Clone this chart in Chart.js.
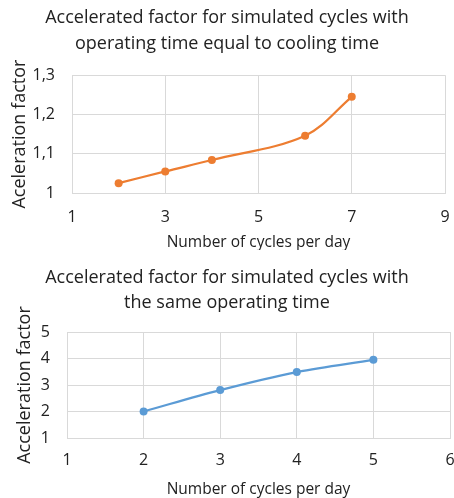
<!DOCTYPE html>
<html>
<head>
<meta charset="utf-8">
<script src="https://cdn.jsdelivr.net/npm/chart.js@4/dist/chart.umd.min.js"></script>
<style>
    body { margin: 0; background: #fff; }
    #wrap { position: relative; width: 454px; height: 498px; }
    canvas { position: absolute; left: 0; }
</style>
</head>
<body>
<div id="wrap">
    <canvas id="topChart" width="454" height="250" style="top:0"></canvas>
    <canvas id="bottomChart" width="454" height="248" style="top:250px"></canvas>
</div>
<script>
// data
var topTitle = ['Accelerated factor for simulated cycles with', 'operating time equal to cooling time'];
var topCycles = [2, 3, 4, 6, 7];
var topFactor = [1.025, 1.055, 1.084, 1.146, 1.245];

var bottomTitle = ['Accelerated factor for simulated cycles with', 'the same operating time'];
var bottomCycles = [2, 3, 4, 5];
var bottomFactor = [2.0, 2.81, 3.49, 3.95];

var textColor = '#222';
var gridColor = '#d9d9d9';
var fontName = "'Open Sans', sans-serif";

function toPoints(xs, ys) {
    var pts = [];
    for (var i = 0; i < xs.length; i++) {
        pts.push({x: xs[i], y: ys[i]});
    }
    return pts;
}

function commaLabel(value) {
    return String(Math.round(value * 10) / 10).replace('.', ',');
}

function drawChart(id, cfg) {
    var ctx = document.getElementById(id);
    return new Chart(ctx, {
        type: 'line',
        data: {
            datasets: [{
                data: toPoints(cfg.xs, cfg.ys),
                borderColor: cfg.color,
                backgroundColor: cfg.color,
                borderWidth: 2.25,
                pointRadius: 4,
                pointBorderWidth: 0,
                tension: cfg.tension
            }]
        },
        options: {
            responsive: false,
            animation: false,
            layout: { padding: 0 },
            plugins: {
                legend: { display: false },
                tooltip: { enabled: false },
                title: {
                    display: true,
                    text: cfg.title,
                    color: textColor,
                    font: { family: fontName, size: 18, weight: 'normal', lineHeight: cfg.titleLine },
                    padding: cfg.titlePad
                }
            },
            scales: {
                x: {
                    type: 'linear',
                    min: cfg.xMin,
                    max: cfg.xMax,
                    grid: { color: gridColor, drawTicks: false },
                    border: { color: gridColor },
                    ticks: {
                        stepSize: cfg.xStep,
                        color: textColor,
                        padding: cfg.xTickPad,
                        font: { family: fontName, size: 16 }
                    },
                    title: {
                        display: true,
                        text: 'Number of cycles per day',
                        color: textColor,
                        font: { family: fontName, size: 15.5, lineHeight: 1 },
                        padding: { top: 0, bottom: cfg.xTitleBottom }
                    },
                    afterFit: function(scale) {
                        scale.height = cfg.xHeight;
                        scale.paddingRight = cfg.rightPad;
                    }
                },
                y: {
                    min: cfg.yMin,
                    max: cfg.yMax,
                    grid: { color: gridColor, drawTicks: false },
                    border: { color: gridColor },
                    ticks: {
                        stepSize: cfg.yStep,
                        color: textColor,
                        padding: 17,
                        font: { family: fontName, size: 16 },
                        callback: cfg.yLabel
                    },
                    title: {
                        display: true,
                        text: cfg.yTitle,
                        color: textColor,
                        font: { family: fontName, size: 18, lineHeight: 1.2 },
                        padding: { top: cfg.yTitleTop, bottom: 0 }
                    },
                    afterFit: function(scale) {
                        scale.width = cfg.yWidth;
                    }
                }
            }
        }
    });
}

drawChart('topChart', {
    title: topTitle,
    titleLine: 1.45,
    titlePad: { top: 5, bottom: 18 },
    xs: topCycles,
    ys: topFactor,
    color: '#ed7d31',
    tension: 0.35,
    xMin: 1, xMax: 9, xStep: 2,
    yMin: 1, yMax: 1.3, yStep: 0.1,
    yLabel: commaLabel,
    yTitle: 'Aceleration factor',
    yTitleTop: 9,
    yWidth: 72,
    xHeight: 57,
    xTickPad: 15,
    xTitleBottom: 0,
    rightPad: 9
});

drawChart('bottomChart', {
    title: bottomTitle,
    titleLine: 1.39,
    titlePad: { top: 15, bottom: 17 },
    xs: bottomCycles,
    ys: bottomFactor,
    color: '#5b9bd5',
    tension: 0.35,
    xMin: 1, xMax: 6, xStep: 1,
    yMin: 1, yMax: 5, yStep: 1,
    yLabel: function(v) { return v; },
    yTitle: 'Acceleration factor',
    yTitleTop: 14,
    yWidth: 67,
    xHeight: 60,
    xTickPad: 13,
    xTitleBottom: 1,
    rightPad: 3
});
</script>
</body>
</html>
